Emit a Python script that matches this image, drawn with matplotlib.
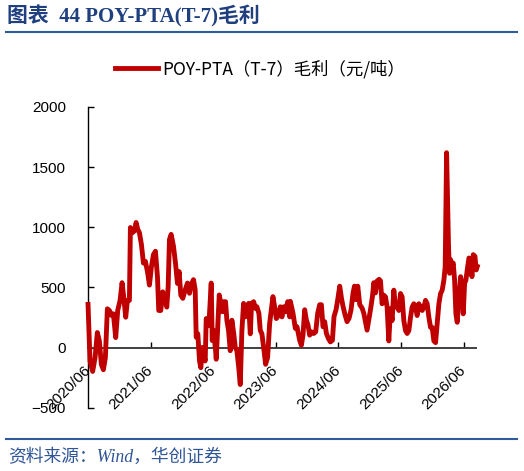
import numpy as np
import matplotlib.pyplot as plt
from matplotlib.lines import Line2D

plt.rcParams['font.family'] = ['Liberation Sans', 'Noto Sans CJK SC']
plt.rcParams['axes.unicode_minus'] = True

# tempo em anos decimais (2020/06 = 2020.417) e margem POY-PTA (元/吨)
t = [2020.417, 2020.449, 2020.491, 2020.529, 2020.566, 2020.598, 2020.630, 2020.662,
     2020.694, 2020.726, 2020.758, 2020.795, 2020.822, 2020.859, 2020.891, 2020.929,
     2020.961, 2020.987, 2021.019, 2021.046, 2021.078, 2021.094, 2021.126, 2021.158,
     2021.185, 2021.211, 2021.238, 2021.270, 2021.302, 2021.334, 2021.371, 2021.398,
     2021.430, 2021.462, 2021.494, 2021.526, 2021.547, 2021.579, 2021.611, 2021.643,
     2021.675, 2021.697, 2021.718, 2021.745, 2021.782, 2021.814, 2021.846, 2021.873,
     2021.899, 2021.931, 2021.969, 2022.006, 2022.038, 2022.075, 2022.102, 2022.129,
     2022.145, 2022.171, 2022.198, 2022.219, 2022.246, 2022.262, 2022.289, 2022.305,
     2022.326, 2022.347, 2022.385, 2022.401, 2022.422, 2022.443, 2022.465, 2022.491,
     2022.513, 2022.539, 2022.566, 2022.587, 2022.614, 2022.635, 2022.662, 2022.689,
     2022.715, 2022.742, 2022.769, 2022.795, 2022.822, 2022.849, 2022.875, 2022.902,
     2022.929, 2022.955, 2022.982, 2023.009, 2023.030, 2023.062, 2023.094, 2023.115,
     2023.147, 2023.169, 2023.195, 2023.222, 2023.254, 2023.286, 2023.318, 2023.345,
     2023.371, 2023.398, 2023.425, 2023.462, 2023.489, 2023.515, 2023.542, 2023.574,
     2023.606, 2023.638, 2023.649, 2023.691, 2023.729, 2023.755, 2023.798, 2023.825,
     2023.851, 2023.878, 2023.905, 2023.931, 2023.958, 2023.985, 2024.022, 2024.054,
     2024.086, 2024.118, 2024.145, 2024.171, 2024.198, 2024.225, 2024.257, 2024.289,
     2024.321, 2024.347, 2024.379, 2024.406, 2024.438, 2024.465, 2024.491, 2024.523,
     2024.555, 2024.587, 2024.619, 2024.651, 2024.673, 2024.699, 2024.726, 2024.758,
     2024.795, 2024.822, 2024.849, 2024.875, 2024.902, 2024.929, 2024.961, 2024.982,
     2025.009, 2025.035, 2025.067, 2025.089, 2025.115, 2025.142, 2025.169, 2025.195,
     2025.222, 2025.249, 2025.275, 2025.302, 2025.329, 2025.355, 2025.382, 2025.409,
     2025.435, 2025.462, 2025.489, 2025.515, 2025.542, 2025.569, 2025.595, 2025.622,
     2025.649, 2025.675, 2025.702, 2025.729, 2025.755, 2025.782, 2025.809, 2025.835,
     2025.862, 2025.889, 2025.915, 2025.942, 2025.969, 2025.995, 2026.022, 2026.049,
     2026.075, 2026.102, 2026.123, 2026.145, 2026.177, 2026.193, 2026.209, 2026.230,
     2026.251, 2026.273, 2026.294, 2026.315, 2026.342, 2026.369, 2026.390, 2026.411,
     2026.433, 2026.454, 2026.475, 2026.502, 2026.529, 2026.550, 2026.571, 2026.598,
     2026.619, 2026.635]

margem = [360, -112, -197, -84, 126, 56, -140, -183,
          -84, 323, 309, 267, 281, 84, 309, 393,
          540, 421, 253, 393, 393, 998, 955, 970,
          1040, 984, 955, 857, 703, 717, 618, 520,
          674, 773, 801, 590, 309, 309, 464, 407,
          337, 506, 899, 941, 843, 703, 534, 632,
          436, 410, 480, 537, 452, 537, 565, 480,
          87, 115, -110, -166, 3, -53, -110, 242,
          228, 185, 537, 59, 143, 59, -96, 200,
          438, 368, 298, 382, 382, 228, 143, -25,
          228, 129, 3, -25, -152, -306, 143, 368,
          256, 340, 368, 115, 368, 382, 326, 340,
          284, 143, 115, 3, -138, -81, 200, 312,
          424, 340, 242, 270, 340, 256, 340, 298,
          382, 256, 385, 287, 160, 174, 62, 20,
          104, 315, 230, 188, 104, 132, 118, 132,
          287, 357, 357, 174, 216, 118, 76, 48,
          62, 259, 315, 399, 511, 413, 343, 273,
          216, 244, 315, 455, 511, 399, 511, 357,
          329, 287, 216, 146, 230, 315, 427, 540,
          455, 554, 568, 555, 365, 436, 422, 337,
          56, 323, 225, 478, 337, 365, 309, 450,
          422, 225, 141, 118, 141, 253, 337, 365,
          337, 267, 365, 337, 309, 337, 393, 365,
          253, 169, 169, 56, 42, 197, 365, 450,
          478, 562, 674, 1620, 815, 618, 731, 674,
          703, 562, 281, 211, 422, 590, 534, 281,
          534, 562, 646, 745, 731, 590, 773, 759,
          646, 674]

anos_ticks = [2020.417, 2021.417, 2022.417, 2023.417, 2024.417, 2025.417, 2026.417]
rotulos_x = ['2020/06', '2021/06', '2022/06', '2023/06', '2024/06', '2025/06', '2026/06']
y_ticks = [-500, 0, 500, 1000, 1500, 2000]

azul = '#1F3F7F'
vermelho = '#C00000'

fig = plt.figure(figsize=(5.24, 4.71), dpi=100)
ax = fig.add_axes([0.168, 0.134, 0.741, 0.639])

ax.plot(t, margem, color=vermelho, lw=3.5, zorder=3, clip_on=False,
        solid_joinstyle='round')

# eixo x cruzando no zero (antes de mexer nos ticks, pois reseta os ticks)
ax.spines['bottom'].set_position(('data', 0))
ax.spines['top'].set_visible(False)
ax.spines['right'].set_visible(False)
ax.spines['bottom'].set_color('#404040')
ax.spines['bottom'].set_linewidth(1.4)
ax.spines['left'].set_linewidth(1.0)

ax.set_xlim(2020.417, 2026.62)
ax.set_ylim(-500, 2000)
ax.set_yticks(y_ticks)
ax.set_xticks(anos_ticks)
ax.set_xticklabels(rotulos_x)
ax.tick_params(axis='x', direction='in', length=4, width=1, pad=15,
               labelsize=11, colors='black')
ax.tick_params(axis='y', direction='in', length=4, width=1, pad=16,
               labelsize=11)
plt.setp(ax.get_xticklabels(), rotation=45, ha='right', va='center',
         rotation_mode='anchor')

# legenda
h = Line2D([], [], color=vermelho, lw=3.5)
fig.legend([h], ['POY-PTA（T-7）毛利（元/吨）'], loc='center',
           bbox_to_anchor=(0.496, 0.853), frameon=False, handlelength=2.5,
           handletextpad=0.2, prop={'family': ['Noto Sans CJK SC'], 'size': 12.5})

# titulo, linhas e fonte
fig.text(0.014, 0.966, '图表  44 POY-PTA(T-7)毛利', ha='left', va='center',
         fontsize=15, fontweight='bold', color=azul,
         family=['Liberation Serif', 'Noto Sans CJK SC'])
fig.add_artist(Line2D([0.012, 0.987], [0.932, 0.932], color='#2E5C9A', lw=1.5))
fig.add_artist(Line2D([0.012, 0.987], [0.068, 0.068], color='#2E5C9A', lw=1.5))
fig.text(0.015, 0.030, '资料来源：Wind，华创证券', ha='left', va='center',
         fontsize=12.8, style='italic', color='#2F5597',
         family=['Liberation Serif', 'Noto Sans CJK SC'])

fig.savefig('out.png', dpi=100)
